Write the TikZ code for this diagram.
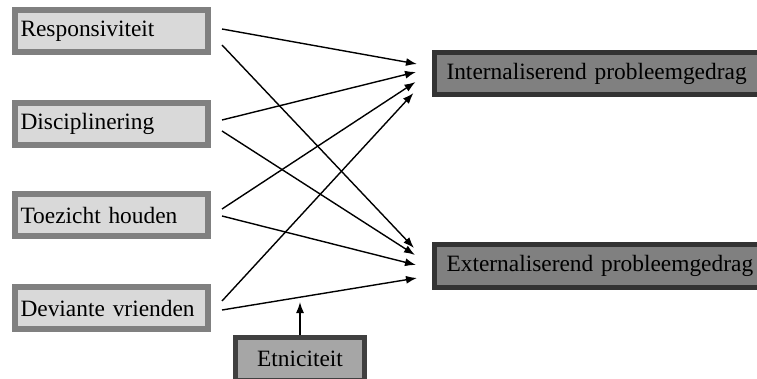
\documentclass[tikz,border=0pt]{standalone}
\usepackage{fontspec}
\setmainfont{Liberation Serif}
\usetikzlibrary{arrows.meta,positioning}

\definecolor{predfill}{HTML}{D9D9D9}
\definecolor{preddraw}{HTML}{808080}
\definecolor{outfill}{HTML}{808080}
\definecolor{outdraw}{HTML}{333333}
\definecolor{modfill}{HTML}{A6A6A6}
\definecolor{moddraw}{HTML}{404040}

\tikzset{
  boxfont/.style={font=\fontsize{23.4}{28}\selectfont},
  predictor/.style={boxfont, draw=preddraw, fill=predfill, line width=6pt,
    minimum height=42pt, text width=182pt, inner xsep=5.5pt, align=left},
  outcome/.style={boxfont, draw=outdraw, fill=outfill, line width=5pt,
    minimum height=42pt, text width=312pt, inner xsep=12pt, align=left},
  moderator/.style={boxfont, draw=moddraw, fill=modfill, line width=5pt,
    minimum width=129pt, minimum height=43pt},
  effect/.style={line width=1.4pt, -{Latex[length=11pt,width=8pt]}}
}

\begin{document}
\begin{tikzpicture}[x=1pt,y=-1pt]
    \useasboundingbox (0,0) rectangle (757,379);

    % Predictors
    \node[predictor] (resp) at (111.5,31) {Responsiviteit};
    \node[predictor] (disc) at (111.5,124) {Disciplinering};
    \node[predictor] (toez) at (111.5,215.5) {Toezicht houden};
    \node[predictor] (dev) at (111.5,308) {Deviante vrienden};

    % Outcomes
    \node[outcome] (intern) at (602.5,73.5) {Internaliserend probleemgedrag};
    \node[outcome] (extern) at (602.5,266) {Externaliserend probleemgedrag};

    % Moderator
    \node[moderator] (etn) at (300,359) {Etniciteit};
    \coordinate (moderation) at (300,302);

    % Paths to internalising
    \draw[effect] ([xshift=11pt,yshift=2pt]resp.east) -- ([xshift=-15pt,yshift=9.5pt]intern.west);
    \draw[effect] ([xshift=11pt,yshift=4pt]disc.east) -- ([xshift=-16pt,yshift=1.5pt]intern.west);
    \draw[effect] ([xshift=11pt,yshift=6.5pt]toez.east) -- ([xshift=-16.5pt,yshift=-8.5pt]intern.west);
    \draw[effect] ([xshift=11pt,yshift=7pt]dev.east) -- ([xshift=-18.5pt,yshift=-19.5pt]intern.west);

    % Paths to externalising
    \draw[effect] ([xshift=11pt,yshift=-14pt]resp.east) -- ([xshift=-18pt,yshift=18pt]extern.west);
    \draw[effect] ([xshift=11pt,yshift=-7pt]disc.east) -- ([xshift=-17pt,yshift=11pt]extern.west);
    \draw[effect] ([xshift=11pt,yshift=-0.5pt]toez.east) -- ([xshift=-16pt,yshift=1pt]extern.west);
    \draw[effect] ([xshift=11pt,yshift=-2pt]dev.east) -- ([xshift=-15pt,yshift=-12pt]extern.west);

    % Moderation
    \draw[effect] (etn) -- (moderation);

\end{tikzpicture}
\end{document}
